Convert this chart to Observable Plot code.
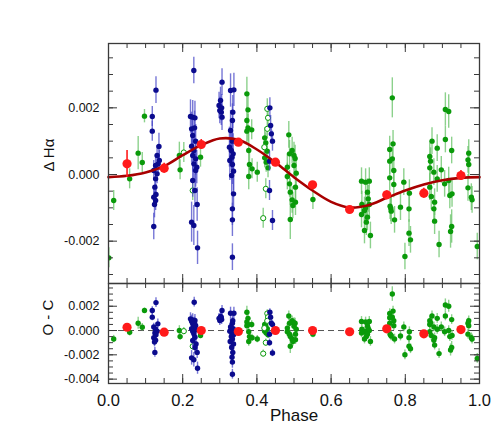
<!DOCTYPE html>
<html>
<head>
<meta charset="utf-8">
<script src="https://cdn.jsdelivr.net/npm/d3@7"></script>
<script src="https://cdn.jsdelivr.net/npm/@observablehq/plot@0.6"></script>
<style>
  html, body { margin: 0; padding: 0; background: #fff; }
  #chart svg { display: block; }
</style>
</head>
<body>
<div id="chart"></div>
<script>
// ---------------- data (phase, value, error) ----------------
const xTickValues = [0, 0.2, 0.4, 0.6, 0.8, 1.0];
const xMinorTicks = [0,0.05,0.1,0.15,0.2,0.25,0.3,0.35,0.4,0.45,0.5,0.55,0.6,0.65,0.7,0.75,0.8,0.85,0.9,0.95,1.0];
const topYTicks = [-0.002, 0, 0.002];
const topYMinor = [-0.003,-0.0025,-0.002,-0.0015,-0.001,-0.0005,0,0.0005,0.001,0.0015,0.002,0.0025,0.003,0.0035];
const botYTicks = [-0.004, -0.002, 0, 0.002];
const botYMinor = [-0.004,-0.0035,-0.003,-0.0025,-0.002,-0.0015,-0.001,-0.0005,0,0.0005,0.001,0.0015,0.002,0.0025,0.003,0.0035];

const blueTop = [
  [0.118,0.00174,0.0003],[0.118,0.00130,0.0003],[0.128,0.00253,0.0004],[0.136,0.00084,0.0004],
  [0.131,0.00057,0.0003],[0.137,0.00042,0.0003],[0.134,0.00032,0.0003],[0.127,0.00027,0.0003],
  [0.122,0.00012,0.0003],[0.131,0.00002,0.0003],[0.127,-0.00013,0.0003],[0.125,-0.00038,0.0003],
  [0.128,-0.00060,0.0003],[0.122,-0.00068,0.0003],[0.127,-0.00078,0.0003],[0.124,-0.00090,0.0004],
  [0.122,-0.00156,0.0004],
  [0.230,0.00312,0.0004],[0.221,0.00174,0.0005],[0.227,0.00172,0.0005],[0.233,0.00170,0.0005],
  [0.224,0.00137,0.0005],[0.232,0.00140,0.0005],[0.227,0.00117,0.0005],[0.235,0.00100,0.0005],
  [0.224,0.00085,0.0005],[0.230,0.00072,0.0005],[0.227,0.00057,0.0005],[0.235,0.00047,0.0005],
  [0.230,0.00032,0.0005],[0.238,0.00022,0.0005],[0.235,0.00012,0.0005],[0.227,-0.00018,0.0005],
  [0.233,-0.00048,0.0005],[0.239,-0.00090,0.0005],[0.224,-0.00143,0.0006],[0.230,-0.00153,0.0006],
  [0.240,-0.00220,0.0005],
  [0.306,0.00277,0.0004],[0.302,0.00222,0.0004],[0.298,0.00207,0.0004],[0.305,0.00200,0.0004],
  [0.300,0.00192,0.0004],[0.304,0.00187,0.0004],[0.306,0.00172,0.0004],
  [0.329,0.00252,0.0005],[0.338,0.00254,0.0005],[0.335,0.00187,0.0005],[0.334,0.00162,0.0005],
  [0.329,0.00132,0.0006],[0.334,0.00100,0.0006],[0.326,0.00082,0.0006],[0.331,0.00072,0.0006],
  [0.336,0.00062,0.0006],[0.333,0.00052,0.0006],[0.327,0.00042,0.0006],[0.334,0.00030,0.0006],
  [0.337,0.00010,0.0006],[0.332,-0.00003,0.0006],[0.337,-0.00058,0.0005],[0.334,-0.00103,0.0005],
  [0.334,-0.00136,0.0005],[0.334,-0.00248,0.0004],
  [0.435,0.00200,0.0003],[0.437,0.00147,0.0003],[0.439,0.00122,0.0003],[0.442,0.00100,0.0003],
  [0.434,0.00040,0.0003],[0.434,-0.00048,0.0003],[0.442,-0.00138,0.0003]
];

const greenTop = [
  [0.001,-0.00250,0.0003],[0.014,-0.00078,0.0003],[0.057,-0.00013,0.0003],[0.080,0.00064,0.0005],
  [0.091,0.00036,0.0003],[0.097,0.00175,0.0002],[0.191,0.00057,0.0004],[0.193,0.00014,0.0003],
  [0.248,0.00052,0.0003],
  [0.373,0.00242,0.0005],[0.376,0.00194,0.0004],[0.373,0.00162,0.0004],[0.376,0.00140,0.0004],
  [0.373,0.00130,0.0004],[0.386,0.00134,0.0003],[0.378,0.00072,0.0005],[0.380,0.00030,0.0004],
  [0.387,0.00017,0.0003],[0.378,-0.00006,0.0004],[0.401,0.00007,0.0003],
  [0.421,0.00110,0.0003],[0.424,0.00095,0.0003],[0.428,0.00070,0.0003],[0.421,0.00050,0.0003],
  [0.425,0.00037,0.0003],[0.430,0.00020,0.0003],
  [0.486,0.00119,0.0004],[0.495,0.00072,0.0004],[0.500,0.00057,0.0004],[0.488,0.00062,0.0004],
  [0.503,0.00048,0.0004],[0.482,0.00022,0.0004],[0.500,0.00027,0.0004],[0.506,0.00004,0.0004],
  [0.482,-0.00006,0.0004],[0.488,-0.00028,0.0004],[0.504,-0.00038,0.0004],[0.490,-0.00053,0.0004],
  [0.495,-0.00076,0.0004],[0.504,-0.00083,0.0004],[0.497,-0.00093,0.0004],[0.490,-0.00135,0.0006],
  [0.551,-0.00075,0.0003],
  [0.682,-0.00020,0.0004],[0.693,-0.00023,0.0004],[0.703,-0.00020,0.0004],[0.698,-0.00053,0.0004],
  [0.700,-0.00073,0.0004],[0.683,-0.00090,0.0004],[0.693,-0.00100,0.0004],[0.703,-0.00090,0.0004],
  [0.690,-0.00108,0.0004],[0.682,-0.00120,0.0004],[0.698,-0.00128,0.0004],[0.695,-0.00143,0.0004],
  [0.690,-0.00168,0.0004],[0.706,-0.00183,0.0004],
  [0.765,0.00230,0.0006],[0.767,0.00092,0.0004],[0.758,0.00075,0.0004],[0.765,0.00047,0.0004],
  [0.758,0.00040,0.0004],[0.769,0.00012,0.0004],[0.758,-0.00010,0.0004],[0.769,-0.00030,0.0004],
  [0.759,-0.00095,0.0004],[0.761,-0.00102,0.0004],[0.762,-0.00110,0.0004],[0.771,-0.00136,0.0004],
  [0.787,-0.00098,0.0004],[0.796,-0.00023,0.0004],[0.811,-0.00056,0.0004],[0.810,-0.00103,0.0004],
  [0.810,-0.00176,0.0004],[0.814,-0.00196,0.0004],[0.799,-0.00246,0.0004],
  [0.866,0.00054,0.0004],[0.868,0.00040,0.0004],[0.872,0.00100,0.0004],[0.866,0.00020,0.0004],
  [0.877,0.00007,0.0004],[0.886,0.00079,0.0004],[0.897,0.00014,0.0004],[0.886,-0.00013,0.0004],
  [0.866,-0.00038,0.0004],[0.870,-0.00066,0.0004],[0.879,-0.00083,0.0004],[0.877,-0.00103,0.0004],
  [0.879,-0.00140,0.0004],[0.891,-0.00210,0.0004],
  [0.908,0.00195,0.0005],[0.917,0.00189,0.0005],[0.908,0.00105,0.0004],[0.925,0.00072,0.0004],
  [0.906,-0.00028,0.0004],[0.917,-0.00018,0.0004],[0.920,-0.00063,0.0004],[0.926,-0.00058,0.0004],
  [0.925,-0.00156,0.0005],[0.922,-0.00171,0.0005],
  [0.971,0.00064,0.0004],[0.969,0.00044,0.0004],[0.971,0.00030,0.0004],[0.969,-0.00040,0.0004],
  [0.978,-0.00068,0.0004],[0.980,-0.00076,0.0004],[0.994,-0.00216,0.0004]
];

const openTop = [
  [0.203,0.00066,0.0003],[0.227,-0.00048,0.0003],[0.428,0.00197,0.0003],[0.430,0.00170,0.0003],
  [0.428,0.00137,0.0003],[0.420,0.00082,0.0003],[0.424,-0.00043,0.0003],[0.417,-0.00131,0.0003]
];

const blueBot = [
  [0.118,0.00165,0.0003],[0.118,0.00110,0.0003],[0.128,0.00230,0.0004],[0.133,0.00055,0.0004],
  [0.122,0.00030,0.0003],[0.127,0.00010,0.0003],[0.131,-0.00005,0.0003],[0.125,-0.00020,0.0003],
  [0.128,-0.00035,0.0003],[0.122,-0.00060,0.0003],[0.127,-0.00080,0.0003],[0.124,-0.00095,0.0004],
  [0.125,-0.00180,0.0004],
  [0.231,0.00233,0.0004],[0.221,0.00096,0.0005],[0.227,0.00088,0.0005],[0.233,0.00082,0.0005],
  [0.224,0.00077,0.0005],[0.232,0.00060,0.0005],[0.227,0.00055,0.0005],[0.235,0.00040,0.0005],
  [0.230,0.00033,0.0005],[0.224,0.00014,0.0005],[0.235,0.00005,0.0005],[0.227,-0.00005,0.0005],
  [0.230,-0.00027,0.0005],[0.233,-0.00055,0.0005],[0.227,-0.00082,0.0005],[0.236,-0.00110,0.0005],
  [0.233,-0.00140,0.0005],[0.239,-0.00180,0.0005],[0.224,-0.00225,0.0006],[0.230,-0.00240,0.0006],
  [0.240,-0.00310,0.0005],
  [0.306,0.00165,0.0004],[0.302,0.00115,0.0004],[0.298,0.00100,0.0004],[0.305,0.00090,0.0004],
  [0.300,0.00082,0.0004],[0.304,0.00110,0.0004],
  [0.329,0.00142,0.0005],[0.338,0.00142,0.0005],[0.335,0.00080,0.0005],[0.334,0.00060,0.0005],
  [0.329,0.00030,0.0006],[0.336,0.00015,0.0006],[0.327,-0.00005,0.0006],[0.333,-0.00020,0.0006],
  [0.337,-0.00035,0.0006],[0.331,-0.00050,0.0006],[0.334,-0.00070,0.0006],[0.328,-0.00090,0.0006],
  [0.337,-0.00110,0.0006],[0.332,-0.00140,0.0006],[0.335,-0.00180,0.0005],[0.333,-0.00220,0.0005],
  [0.334,-0.00260,0.0005],[0.334,-0.00360,0.0004],
  [0.435,0.00150,0.0003],[0.437,0.00110,0.0003],[0.439,0.00060,0.0003],[0.442,0.00050,0.0003],
  [0.434,-0.00030,0.0003],[0.434,-0.00100,0.0003],[0.442,-0.00185,0.0003]
];

const greenBot = [
  [0.014,-0.00070,0.0003],[0.057,-0.00015,0.0003],[0.080,0.00060,0.0005],[0.091,0.00027,0.0003],
  [0.097,0.00165,0.0002],[0.191,0.00000,0.0004],[0.193,-0.00050,0.0003],[0.248,-0.00040,0.0003],
  [0.373,0.00150,0.0005],[0.376,0.00100,0.0004],[0.373,0.00070,0.0004],[0.376,0.00050,0.0004],
  [0.373,0.00040,0.0004],[0.386,0.00050,0.0003],[0.378,-0.00010,0.0005],[0.380,-0.00050,0.0004],
  [0.387,-0.00060,0.0003],[0.378,-0.00090,0.0004],[0.401,-0.00070,0.0003],
  [0.421,0.00050,0.0003],[0.424,0.00040,0.0003],[0.428,0.00015,0.0003],[0.421,-0.00005,0.0003],
  [0.425,-0.00020,0.0003],[0.430,-0.00035,0.0003],
  [0.486,0.00120,0.0004],[0.495,0.00080,0.0004],[0.500,0.00065,0.0004],[0.488,0.00060,0.0004],
  [0.503,0.00060,0.0004],[0.482,0.00020,0.0004],[0.500,0.00035,0.0004],[0.506,0.00010,0.0004],
  [0.482,-0.00010,0.0004],[0.488,-0.00030,0.0004],[0.504,-0.00030,0.0004],[0.490,-0.00050,0.0004],
  [0.495,-0.00070,0.0004],[0.504,-0.00075,0.0004],[0.497,-0.00090,0.0004],[0.490,-0.00130,0.0006],
  [0.551,-0.00030,0.0003],
  [0.682,0.00075,0.0004],[0.693,0.00070,0.0004],[0.703,0.00075,0.0004],[0.698,0.00040,0.0004],
  [0.700,0.00020,0.0004],[0.683,0.00010,0.0004],[0.693,-0.00010,0.0004],[0.703,0.00000,0.0004],
  [0.690,-0.00010,0.0004],[0.682,-0.00020,0.0004],[0.698,-0.00030,0.0004],[0.695,-0.00050,0.0004],
  [0.690,-0.00070,0.0004],[0.706,-0.00090,0.0004],
  [0.765,0.00300,0.0006],[0.767,0.00160,0.0004],[0.758,0.00140,0.0004],[0.765,0.00110,0.0004],
  [0.758,0.00105,0.0004],[0.769,0.00080,0.0004],[0.758,0.00060,0.0004],[0.769,0.00040,0.0004],
  [0.759,-0.00030,0.0004],[0.761,-0.00038,0.0004],[0.762,-0.00045,0.0004],[0.771,-0.00070,0.0004],
  [0.787,-0.00045,0.0004],[0.796,0.00030,0.0004],[0.811,-0.00010,0.0004],[0.810,-0.00060,0.0004],
  [0.810,-0.00130,0.0004],[0.814,-0.00150,0.0004],[0.799,-0.00200,0.0004],
  [0.866,0.00080,0.0004],[0.868,0.00065,0.0004],[0.872,0.00120,0.0004],[0.866,0.00050,0.0004],
  [0.877,0.00030,0.0004],[0.886,0.00100,0.0004],[0.897,0.00030,0.0004],[0.886,0.00010,0.0004],
  [0.866,-0.00010,0.0004],[0.870,-0.00040,0.0004],[0.879,-0.00060,0.0004],[0.877,-0.00080,0.0004],
  [0.879,-0.00120,0.0004],[0.891,-0.00190,0.0004],
  [0.908,0.00210,0.0005],[0.917,0.00200,0.0005],[0.908,0.00120,0.0004],[0.925,0.00090,0.0004],
  [0.906,-0.00010,0.0004],[0.917,0.00000,0.0004],[0.920,-0.00050,0.0004],[0.926,-0.00040,0.0004],
  [0.925,-0.00140,0.0005],[0.922,-0.00160,0.0005],
  [0.971,0.00080,0.0004],[0.969,0.00060,0.0004],[0.971,0.00040,0.0004],[0.969,-0.00030,0.0004],
  [0.978,-0.00060,0.0004],[0.980,-0.00070,0.0004],[0.994,-0.00230,0.0004]
];

const openBot = [
  [0.203,-0.00005,0.0003],[0.227,-0.00130,0.0003],[0.428,0.00140,0.0003],[0.430,0.00110,0.0003],
  [0.428,0.00080,0.0003],[0.420,0.00020,0.0003],[0.424,-0.00100,0.0003],[0.417,-0.00190,0.0003]
];

const binPhase = [0.05,0.15,0.25,0.35,0.45,0.55,0.65,0.75,0.85,0.95];
const binTop   = [0.00032,0.00019,0.00090,0.00097,0.00037,-0.00031,-0.00105,-0.00061,-0.00056,-0.00003];
const binErr   = [0.00040,0.00015,0.00015,0.00010,0.00010,0.00010,0.00010,0.00012,0.00015,0.00015];
const binOC    = [0.00027,-0.00014,0.00000,-0.00008,0.00000,0.00000,-0.00010,0.00014,-0.00027,0.00008];

const modelPhase = [0,0.05,0.1,0.15,0.2,0.25,0.3,0.35,0.4,0.45,0.5,0.55,0.6,0.65,0.7,0.75,0.8,0.85,0.9,0.95,1.0];
const modelVal   = [-0.00008,-0.00004,0.00006,0.00025,0.00058,0.00088,0.00108,0.00104,0.00075,0.00036,-0.00008,-0.00048,-0.00082,-0.00099,-0.00092,-0.00070,-0.00048,-0.00030,-0.00017,-0.00010,-0.00008];

// ---------------- styling ----------------
const W = 491, ML = 108, MR = 12;
const PW = W - ML - MR;
const BLUE = "#0b0b8e", BLUE_BAR = "#4a4ac8";
const GREEN = "#0a9a0a", GREEN_BAR = "#66c266";
const RED = "#ff1a1a", CURVE = "#a80000", FRAME = "#3a3a3a", INK = "#111";
const FONT = "'Liberation Sans', Arial, Helvetica, sans-serif";

const bins = binPhase.map((p, i) => ({p, top: binTop[i], oc: binOC[i], e: binErr[i]}));
const model = modelPhase.map((p, i) => ({p, v: modelVal[i]}));

function tickMarks(plotH, yMinor, yMajor) {
  return [
    Plot.tickY(yMinor, {y: d => d, insetRight: PW - 5, stroke: FRAME, strokeWidth: 1}),
    Plot.tickY(yMajor, {y: d => d, insetRight: PW - 9, stroke: FRAME, strokeWidth: 1}),
    Plot.tickY(yMinor, {y: d => d, insetLeft: PW - 5, stroke: FRAME, strokeWidth: 1}),
    Plot.tickY(yMajor, {y: d => d, insetLeft: PW - 9, stroke: FRAME, strokeWidth: 1}),
    Plot.tickX(xMinorTicks, {x: d => d, insetBottom: plotH - 5, stroke: FRAME, strokeWidth: 1}),
    Plot.tickX(xTickValues, {x: d => d, insetBottom: plotH - 9, stroke: FRAME, strokeWidth: 1}),
    Plot.tickX(xMinorTicks, {x: d => d, insetTop: plotH - 5, stroke: FRAME, strokeWidth: 1}),
    Plot.tickX(xTickValues, {x: d => d, insetTop: plotH - 9, stroke: FRAME, strokeWidth: 1})
  ];
}

function pointMarks(blue, green, open) {
  const bar = (data, stroke) => Plot.ruleX(data, {x: d => d[0], y1: d => d[1] - d[2], y2: d => d[1] + d[2],
    stroke, strokeWidth: 1.4, strokeOpacity: 0.75, clip: true});
  return [
    bar(green, GREEN_BAR), bar(open, GREEN_BAR),
    Plot.dot(green, {x: d => d[0], y: d => d[1], r: 2.7, fill: GREEN, stroke: "none", clip: true}),
    Plot.dot(open, {x: d => d[0], y: d => d[1], r: 2.6, fill: "white", stroke: GREEN, strokeWidth: 1, clip: true}),
    bar(blue, BLUE_BAR),
    Plot.dot(blue, {x: d => d[0], y: d => d[1], r: 2.7, fill: BLUE, stroke: "none", clip: true})
  ];
}

// ---------------- top panel ----------------
const topH = 283, topMT = 43;
const topPlotH = topH - topMT;
const topPlot = Plot.plot({
  width: W, height: topH,
  marginLeft: ML, marginRight: MR, marginTop: topMT, marginBottom: 0,
  style: {fontFamily: FONT, background: "white", overflow: "visible"},
  x: {domain: [0, 1], axis: null},
  y: {domain: [-0.00327, 0.00393], axis: null},
  marks: [
    ...pointMarks(blueTop, greenTop, openTop),
    Plot.line(model, {x: "p", y: "v", stroke: CURVE, strokeWidth: 2.6, curve: "catmull-rom"}),
    Plot.ruleX(bins, {x: "p", y1: d => d.top - d.e, y2: d => d.top + d.e, stroke: RED, strokeWidth: 1.6}),
    Plot.dot(bins, {x: "p", y: "top", r: 4.6, fill: RED, stroke: "none"}),
    ...tickMarks(topPlotH, topYMinor, topYTicks),
    Plot.axisY(topYTicks, {anchor: "left", tickSize: 0, tickPadding: 9, fontSize: 12.5, fill: INK,
      tickFormat: d => d.toFixed(3), label: null}),
    Plot.text(["Δ Hα"], {frameAnchor: "left", rotate: -90, dx: -59, dy: 8, fontSize: 15, fill: INK}),
    Plot.frame({stroke: FRAME, strokeWidth: 1.3})
  ]
});

// ---------------- bottom panel ----------------
const botH = 144, botMB = 44;
const botPlotH = botH - botMB;
const botPlot = Plot.plot({
  width: W, height: botH,
  marginLeft: ML, marginRight: MR, marginTop: 0, marginBottom: botMB,
  style: {fontFamily: FONT, background: "white", overflow: "visible"},
  x: {domain: [0, 1], axis: null},
  y: {domain: [-0.00436, 0.00387], axis: null},
  marks: [
    Plot.ruleY([0], {stroke: "#555", strokeWidth: 1, strokeDasharray: "6,4"}),
    ...pointMarks(blueBot, greenBot, openBot),
    Plot.dot(bins, {x: "p", y: "oc", r: 4.6, fill: RED, stroke: "none"}),
    ...tickMarks(botPlotH, botYMinor, botYTicks),
    Plot.axisY(botYTicks, {anchor: "left", tickSize: 0, tickPadding: 9, fontSize: 12.5, fill: INK,
      tickFormat: d => d.toFixed(3), label: null}),
    Plot.axisX(xTickValues, {anchor: "bottom", tickSize: 0, tickPadding: 11, fontSize: 16.5, fill: INK,
      tickFormat: d => d.toFixed(1), label: null}),
    Plot.text(["O - C"], {frameAnchor: "left", rotate: -90, dx: -60, dy: 2, fontSize: 15, fill: INK}),
    Plot.text(["Phase"], {frameAnchor: "bottom", dy: 37, fontSize: 17, fill: INK}),
    Plot.frame({stroke: FRAME, strokeWidth: 1.3})
  ]
});

const chart = document.getElementById("chart");
chart.appendChild(topPlot);
chart.appendChild(botPlot);
</script>
</body>
</html>
